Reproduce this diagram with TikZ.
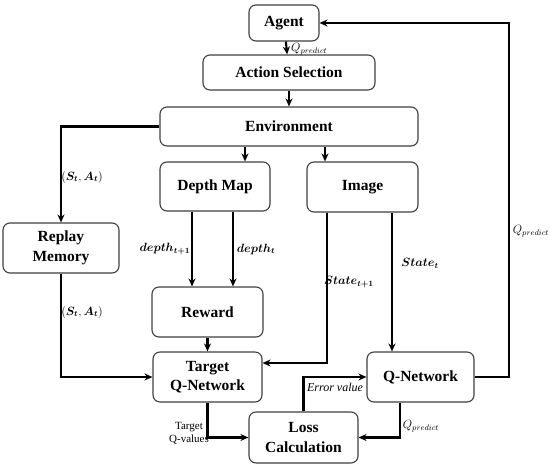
\documentclass[tikz,border=0pt]{standalone}
\usepackage{bm}
\usepackage{fontspec}
\setmainfont{Liberation Serif}
\usetikzlibrary{arrows.meta}
\begin{document}
\begin{tikzpicture}[x=1pt, y=-1pt, >={Stealth[length=8pt,width=7pt]}]
  \tikzset{box/.style={draw=black!75, line width=1.1pt, rounded corners=7pt,
      fill=white, align=center, inner sep=0pt,
      font=\rmfamily\bfseries\fontsize{15.5}{19.5}\selectfont},
    link/.style={->, line width=2.1pt},
    lbl/.style={inner sep=1pt, font=\fontsize{12}{14}\selectfont}}
  \useasboundingbox (0,0) rectangle (550,469);
  % boxes
  \node[box, minimum width=70pt, minimum height=36pt] (agent) at (284,23) {Agent};
  \node[box, minimum width=172pt, minimum height=35pt] (action) at (289,72.5) {Action Selection};
  \node[box, minimum width=258pt, minimum height=39pt] (env) at (289,126.5) {Environment};
  \node[box, minimum width=110pt, minimum height=49pt] (depth) at (215,186.5) {Depth Map};
  \node[box, minimum width=111pt, minimum height=50pt] (image) at (362.5,187) {Image};
  \node[box, minimum width=116pt, minimum height=50pt] (replay) at (61,248) {Replay\\Memory};
  \node[box, minimum width=111pt, minimum height=50pt] (reward) at (207.5,312) {Reward};
  \node[box, minimum width=109pt, minimum height=50pt] (target) at (207.5,377) {Target\\Q-Network};
  \node[box, minimum width=107pt, minimum height=50pt] (qnet) at (420.5,377) {Q-Network};
  \node[box, minimum width=109pt, minimum height=51pt] (loss) at (303.5,437.5) {Loss\\Calculation};
  % connectors
  \draw[link] (agent) -- (action);
  \draw[link] (action) -- (env);
  \draw[link] ([xshift=30pt]depth.north |- env.south) -- ([xshift=30pt]depth.north);
  \draw[link] ([xshift=-37.5pt]image.north |- env.south) -- ([xshift=-37.5pt]image.north);
  \draw[link] (env.west) -| (replay.north);
  \draw[link] ([xshift=-23pt]depth.south) -- ([xshift=-23pt]depth.south |- reward.north);
  \draw[link] ([xshift=18pt]depth.south) -- ([xshift=18pt]depth.south |- reward.north);
  \draw[link] (reward) -- (target);
  \draw[link] (replay.south) |- (target.west);
  \draw[link] ([xshift=-35.5pt]image.south) |- ([yshift=14pt]target.east);
  \draw[link] ([xshift=29.5pt]image.south) -- ([xshift=29.5pt]image.south |- qnet.north);
  \draw[link] (qnet.east) -- ++(34,0) |- (agent.east);
  \draw[link] (target.south) |- (loss.west);
  \draw[link] (loss.north) |- (qnet.west);
  \draw[link] ([xshift=-20.5pt]qnet.south) |- (loss.east);
  % labels
  \node[lbl, anchor=west] (qtop) at (290,49) {$Q_{predict}$};
  \node[lbl] (sa1) at (82,177) {$(\bm{S_t},\bm{A_t})$};
  \node[lbl] (sa2) at (82,312) {$(\bm{S_t},\bm{A_t})$};
  \node[lbl] (d1) at (165,249) {$\bm{depth_{t+1}}$};
  \node[lbl] (d2) at (256,249) {$\bm{depth_t}$};
  \node[lbl] (s1) at (349,282) {$\bm{State_{t+1}}$};
  \node[lbl] (s2) at (420,263) {$\bm{State_t}$};
  \node[lbl] (qright) at (531,231) {$Q_{predict}$};
  \node[lbl, align=center, font=\fontsize{11}{13}\selectfont] (tq) at (189,433) {Target\\Q-values};
  \node[lbl, font=\itshape\fontsize{12}{14}\selectfont] (err) at (335,387) {Error value};
  \node[lbl] (qbot) at (421,426) {$Q_{predict}$};
\end{tikzpicture}
\end{document}
